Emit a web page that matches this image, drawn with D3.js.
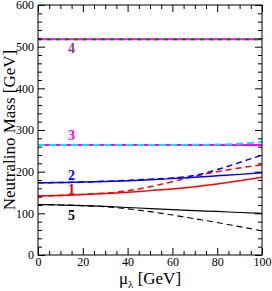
<!DOCTYPE html>
<html>
<head>
<meta charset="utf-8">
<script src="https://cdn.jsdelivr.net/npm/d3@7"></script>
<style>
  body { margin: 0; background: #fff; }
  text { font-family: "Liberation Serif", "Times New Roman", serif; }
</style>
</head>
<body>
<div class="chart"></div>
<script>
// mu_lambda values (GeV)
const muLambda = [0, 10, 20, 30, 40, 50, 60, 70, 80, 90, 100];

// neutralino masses (GeV), solid and dashed versions
const m1Solid  = [141.5, 143, 145, 147.5, 150.5, 154.5, 158.5, 164, 170.5, 178, 186.5];
const m1Dashed = [141.5, 143, 145.5, 148.5, 154, 164, 176, 189, 200, 209, 216];
const m2Solid  = [173.5, 174, 175, 176.5, 178, 180.5, 183.5, 186.5, 190, 193.5, 197.5];
const m2Dashed = [173.5, 174, 175, 177, 179, 182, 185, 191, 205, 222, 240];
const m3Solid  = [264, 264, 264, 264, 264, 264, 264, 264, 264, 264, 264];
const m3Dashed = [264, 264, 264, 264, 264, 264, 264, 264.5, 265, 267, 271];
const m4Solid  = [518, 518, 518, 518, 518, 518, 518, 518, 518, 518, 518];
const m4Dashed = [518, 518, 518, 518, 518, 518, 518, 518, 518, 518, 518];
const m5Solid  = [121, 120, 118.5, 116.5, 114, 111.5, 109, 106.5, 104.5, 102, 100];
const m5Dashed = [121, 120, 118.5, 116, 111, 104, 96, 87, 78, 68, 58];

const xTicks = [0, 20, 40, 60, 80, 100];
const yTicks = [0, 100, 200, 300, 400, 500, 600];

// curve labels: text, anchor (mu, mass)
const labelText = ["4", "3", "2", "1", "5"];
const labelMu   = [15, 15, 15, 15, 15];
const labelMass = [485, 276, 180, 146, 84];

const width = 272, height = 291;
const margin = {left: 38, right: 10, top: 5, bottom: 36};

const x = d3.scaleLinear().domain([0, 100]).range([margin.left, width - margin.right]);
const y = d3.scaleLinear().domain([0, 600]).range([height - margin.bottom, margin.top]);

const svg = d3.select(".chart").append("svg")
  .attr("width", width)
  .attr("height", height);

svg.append("clipPath").attr("id", "plot")
  .append("rect")
  .attr("x", x(0)).attr("y", y(600))
  .attr("width", x(100) - x(0)).attr("height", y(0) - y(600));

const line = d3.line()
  .x((d, i) => x(muLambda[i]))
  .y(d => y(d))
  .curve(d3.curveMonotoneX);

const series = [
  {v: m4Solid,  color: "#ff00ff", dash: null,  w: 2},
  {v: m4Dashed, color: "#008000", dash: "4,5", w: 2},
  {v: m3Solid,  color: "#ff00ff", dash: null,  w: 2},
  {v: m3Dashed, color: "#00e5ee", dash: "7,4", w: 2},
  {v: m1Solid,  color: "#ff0000", dash: null,  w: 1.5},
  {v: m1Dashed, color: "#ff0000", dash: "6,4", w: 1.5},
  {v: m2Solid,  color: "#0000ff", dash: null,  w: 1.5},
  {v: m2Dashed, color: "#0000ff", dash: "6,4", w: 1.5},
  {v: m5Solid,  color: "#000000", dash: null,  w: 1.2},
  {v: m5Dashed, color: "#000000", dash: "6,4", w: 1.2}
];

svg.append("g").attr("clip-path", "url(#plot)")
  .selectAll("path")
  .data(series)
  .enter()
  .append("path")
  .attr("d", d => line(d.v))
  .attr("fill", "none")
  .attr("stroke", d => d.color)
  .attr("stroke-width", d => d.w)
  .attr("stroke-dasharray", d => d.dash);

// frame
svg.append("rect")
  .attr("x", x(0)).attr("y", y(600))
  .attr("width", x(100) - x(0)).attr("height", y(0) - y(600))
  .attr("fill", "none")
  .attr("stroke", "#000")
  .attr("stroke-width", 1);

// inward ticks on all four sides
const xAxisB = d3.axisBottom(x).tickValues(xTicks).tickSize(-7).tickPadding(2).tickFormat(d3.format("d"));
const xAxisT = d3.axisTop(x).tickValues(xTicks).tickSize(-7).tickFormat("");
const yAxisL = d3.axisLeft(y).tickValues(yTicks).tickSize(-7).tickPadding(4).tickFormat(d3.format("d"));
const yAxisR = d3.axisRight(y).tickValues(yTicks).tickSize(-7).tickFormat("");

const xMinor = d3.range(0, 101, 5).filter(d => d % 20 !== 0);
const yMinor = d3.range(0, 601, 20).filter(d => d % 100 !== 0);

function styleAxis(g) {
  g.select(".domain").remove();
  g.selectAll("line").attr("stroke", "#000");
  g.selectAll("text")
    .style("font-family", "Liberation Serif")
    .style("font-size", "12px")
    .attr("fill", "#000");
}

svg.append("g").attr("transform", "translate(0," + y(0) + ")").call(xAxisB).call(styleAxis);
svg.append("g").attr("transform", "translate(0," + y(600) + ")").call(xAxisT).call(styleAxis);
svg.append("g").attr("transform", "translate(" + x(0) + ",0)").call(yAxisL).call(styleAxis);
svg.append("g").attr("transform", "translate(" + x(100) + ",0)").call(yAxisR).call(styleAxis);

svg.append("g").attr("transform", "translate(0," + y(0) + ")")
  .call(d3.axisBottom(x).tickValues(xMinor).tickSize(-4).tickFormat("")).call(styleAxis);
svg.append("g").attr("transform", "translate(0," + y(600) + ")")
  .call(d3.axisTop(x).tickValues(xMinor).tickSize(-4).tickFormat("")).call(styleAxis);
svg.append("g").attr("transform", "translate(" + x(0) + ",0)")
  .call(d3.axisLeft(y).tickValues(yMinor).tickSize(-4).tickFormat("")).call(styleAxis);
svg.append("g").attr("transform", "translate(" + x(100) + ",0)")
  .call(d3.axisRight(y).tickValues(yMinor).tickSize(-4).tickFormat("")).call(styleAxis);

// curve labels
const labelColor = ["#8e3e7e", "#ff00ff", "#0000ff", "#ff0000", "#000000"];
svg.selectAll(".curve-label")
  .data(labelText)
  .enter()
  .append("text")
  .attr("class", "curve-label")
  .attr("x", (d, i) => x(labelMu[i]))
  .attr("y", (d, i) => y(labelMass[i]))
  .attr("text-anchor", "middle")
  .style("font-size", "14px")
  .style("font-weight", "bold")
  .attr("fill", (d, i) => labelColor[i])
  .text(d => d);

// axis titles
const xTitle = svg.append("text")
  .attr("x", (x(0) + x(100)) / 2)
  .attr("y", 284)
  .attr("text-anchor", "middle")
  .style("font-size", "17px")
  .attr("fill", "#000");
xTitle.append("tspan").text("μ");
xTitle.append("tspan").attr("dy", 4).style("font-size", "11px").text("λ");
xTitle.append("tspan").attr("dy", -4).text(" [GeV]");

svg.append("text")
  .attr("transform", "translate(15," + (y(0) + y(600)) / 2 + ") rotate(-90)")
  .attr("text-anchor", "middle")
  .style("font-size", "17px")
  .attr("fill", "#000")
  .text("Neutralino Mass [GeV]");
</script>
</body>
</html>
